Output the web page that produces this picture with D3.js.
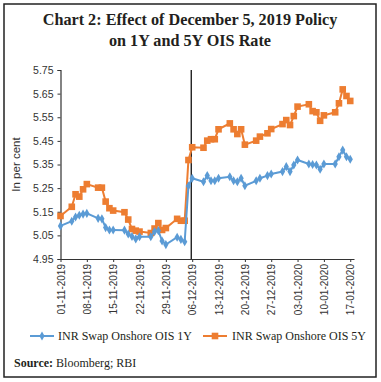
<!DOCTYPE html>
<html>
<head>
<meta charset="utf-8">
<script src="https://cdn.jsdelivr.net/npm/d3@7"></script>
<style>
  body { margin: 0; background: #fff; }
  svg { display: block; }
</style>
</head>
<body>
<svg id="chart" width="381" height="382"></svg>
<script>
var dates = ["2019-11-01","2019-11-04","2019-11-05","2019-11-06","2019-11-07","2019-11-08",
    "2019-11-11","2019-11-12","2019-11-13","2019-11-14","2019-11-15",
    "2019-11-18","2019-11-19","2019-11-20","2019-11-21","2019-11-22",
    "2019-11-25","2019-11-26","2019-11-27","2019-11-28","2019-11-29",
    "2019-12-02","2019-12-03","2019-12-04","2019-12-05","2019-12-06",
    "2019-12-09","2019-12-10","2019-12-11","2019-12-12","2019-12-13",
    "2019-12-16","2019-12-17","2019-12-18","2019-12-19","2019-12-20",
    "2019-12-23","2019-12-24","2019-12-26","2019-12-27",
    "2019-12-30","2019-12-31","2020-01-01","2020-01-02","2020-01-03",
    "2020-01-06","2020-01-07","2020-01-08","2020-01-09","2020-01-10",
    "2020-01-13","2020-01-14","2020-01-15","2020-01-16","2020-01-17"];

var ois1y = [5.090,5.110,5.128,5.135,5.140,5.143,
    5.122,5.120,5.083,5.073,5.073,
    5.072,5.056,5.045,5.035,5.044,
    5.044,5.066,5.070,5.026,5.011,
    5.042,5.033,5.023,5.259,5.292,
    5.277,5.303,5.281,5.281,5.292,
    5.298,5.281,5.277,5.292,5.260,
    5.281,5.292,5.303,5.310,
    5.320,5.341,5.320,5.348,5.369,
    5.352,5.350,5.348,5.330,5.352,
    5.352,5.383,5.411,5.383,5.372];

var ois5y = [5.132,5.171,5.224,5.214,5.245,5.267,
    5.252,5.252,5.193,5.165,5.155,
    5.148,5.117,5.077,5.070,5.066,
    5.060,5.079,5.102,5.073,5.081,
    5.120,5.112,5.112,5.369,5.423,
    5.421,5.451,5.457,5.457,5.499,
    5.524,5.499,5.479,5.499,5.434,
    5.451,5.468,5.482,5.500,
    5.521,5.538,5.517,5.555,5.595,
    5.605,5.576,5.571,5.535,5.558,
    5.571,5.609,5.668,5.640,5.619];

var yTicks = [4.95, 5.05, 5.15, 5.25, 5.35, 5.45, 5.55, 5.65, 5.75];
var xTicks = ["2019-11-01","2019-11-08","2019-11-15","2019-11-22","2019-11-29","2019-12-06",
    "2019-12-13","2019-12-20","2019-12-27","2020-01-03","2020-01-10","2020-01-17"];
var seriesNames = ["INR Swap Onshore OIS 1Y", "INR Swap Onshore OIS 5Y"];
var policyDate = "2019-12-05T18:00";

var parse = d3.timeParse("%Y-%m-%d");
var format = d3.timeFormat("%d-%m-%Y");
var blue = "#5b9bd5", orange = "#ed7d31";
var serif = "'Liberation Serif', 'DejaVu Serif', serif";
var sans = "'Liberation Sans', Arial, sans-serif";

var svg = d3.select("#chart");
var margin = {left: 60.5, top: 70, width: 293.5, height: 189};

svg.append("rect")
    .attr("x", 4).attr("y", 4)
    .attr("width", 372).attr("height", 373)
    .attr("fill", "none")
    .attr("stroke", "#222")
    .attr("stroke-width", 1.5);

svg.append("text")
    .attr("x", 190).attr("y", 25)
    .attr("text-anchor", "middle")
    .style("font-family", serif).style("font-weight", "bold").style("font-size", "16.2px")
    .attr("fill", "#231f20")
    .text("Chart 2: Effect of December 5, 2019 Policy");
svg.append("text")
    .attr("x", 190).attr("y", 46)
    .attr("text-anchor", "middle")
    .style("font-family", serif).style("font-weight", "bold").style("font-size", "16.2px")
    .attr("fill", "#231f20")
    .text("on 1Y and 5Y OIS Rate");

var g = svg.append("g")
    .attr("transform", "translate(" + [margin.left, margin.top] + ")");

var x = d3.scaleTime()
    .domain([parse("2019-11-01"), parse("2020-01-18")])
    .range([0, margin.width]);

var y = d3.scaleLinear()
    .domain([4.95, 5.75])
    .range([margin.height, 0]);

var yAxis = d3.axisLeft(y)
    .tickValues(yTicks)
    .tickSize(3)
    .tickFormat(d3.format(".2f"));
var gy = g.append("g").call(yAxis);
gy.select(".domain").attr("stroke", "#333").attr("stroke-width", 1.2);
gy.selectAll(".tick line").attr("stroke", "#333");
gy.selectAll("text")
    .attr("x", -7)
    .style("font-family", sans).style("font-size", "10.5px").attr("fill", "#333");

var xAxis = d3.axisBottom(x)
    .tickValues(xTicks.map(parse))
    .tickSize(3)
    .tickSizeOuter(0)
    .tickFormat(format);
var gx = g.append("g")
    .attr("transform", "translate(0," + margin.height + ")")
    .call(xAxis);
gx.select(".domain").attr("stroke", "#333").attr("stroke-width", 1.2);
gx.selectAll(".tick line").attr("stroke", "#333");
gx.selectAll("text")
    .attr("text-anchor", "end")
    .attr("transform", "rotate(-90)")
    .attr("x", -5).attr("y", 0).attr("dy", "0.35em")
    .style("font-family", sans).style("font-size", "10px").attr("fill", "#333");

svg.append("text")
    .attr("transform", "translate(20," + (margin.top + margin.height / 2) + ") rotate(-90)")
    .attr("text-anchor", "middle")
    .style("font-family", sans).style("font-size", "11.5px").attr("fill", "#333")
    .text("In per cent");

// policy date marker
var px = x(new Date(policyDate));
g.append("line")
    .attr("x1", px).attr("x2", px)
    .attr("y1", 0).attr("y2", margin.height)
    .attr("stroke", "#111").attr("stroke-width", 1.3);

var rows = dates.map(function (d, i) {
    return {date: parse(d), a: ois1y[i], b: ois5y[i]};
});

var line1 = d3.line().x(function (d) { return x(d.date); }).y(function (d) { return y(d.a); });
var line5 = d3.line().x(function (d) { return x(d.date); }).y(function (d) { return y(d.b); });

g.append("path").datum(rows)
    .attr("d", line5).attr("fill", "none")
    .attr("stroke", orange).attr("stroke-width", 2);
g.selectAll(".sq").data(rows).enter().append("rect")
    .attr("class", "sq")
    .attr("x", function (d) { return x(d.date) - 3.3; })
    .attr("y", function (d) { return y(d.b) - 3.3; })
    .attr("width", 6.6).attr("height", 6.6)
    .attr("fill", orange);

g.append("path").datum(rows)
    .attr("d", line1).attr("fill", "none")
    .attr("stroke", blue).attr("stroke-width", 2);
var diamond = d3.symbol().type(d3.symbolDiamond).size(24);
g.selectAll(".dm").data(rows).enter().append("path")
    .attr("class", "dm")
    .attr("transform", function (d) { return "translate(" + x(d.date) + "," + y(d.a) + ")"; })
    .attr("d", diamond)
    .attr("fill", blue);

// legend
var legend = svg.append("g").attr("transform", "translate(0,336)");
var items = [
    {name: seriesNames[0], color: blue, x0: 30, tx: 58},
    {name: seriesNames[1], color: orange, x0: 203, tx: 232}
];
items.forEach(function (it, i) {
    legend.append("line")
        .attr("x1", it.x0).attr("x2", it.x0 + 24)
        .attr("y1", 0).attr("y2", 0)
        .attr("stroke", it.color).attr("stroke-width", 2);
    if (i == 0) {
        legend.append("path")
            .attr("transform", "translate(" + (it.x0 + 12) + ",0)")
            .attr("d", diamond).attr("fill", it.color);
    } else {
        legend.append("rect")
            .attr("x", it.x0 + 12 - 3.3).attr("y", -3.3)
            .attr("width", 6.6).attr("height", 6.6)
            .attr("fill", it.color);
    }
    legend.append("text")
        .attr("x", it.tx).attr("y", 0).attr("dy", "0.35em")
        .style("font-family", serif).style("font-size", "12px").attr("fill", "#231f20")
        .text(it.name);
});

var src = svg.append("text")
    .attr("x", 14).attr("y", 367)
    .style("font-family", serif).style("font-size", "12px").attr("fill", "#231f20");
src.append("tspan").style("font-weight", "bold").text("Source:");
src.append("tspan").text(" Bloomberg; RBI");
</script>
</body>
</html>
